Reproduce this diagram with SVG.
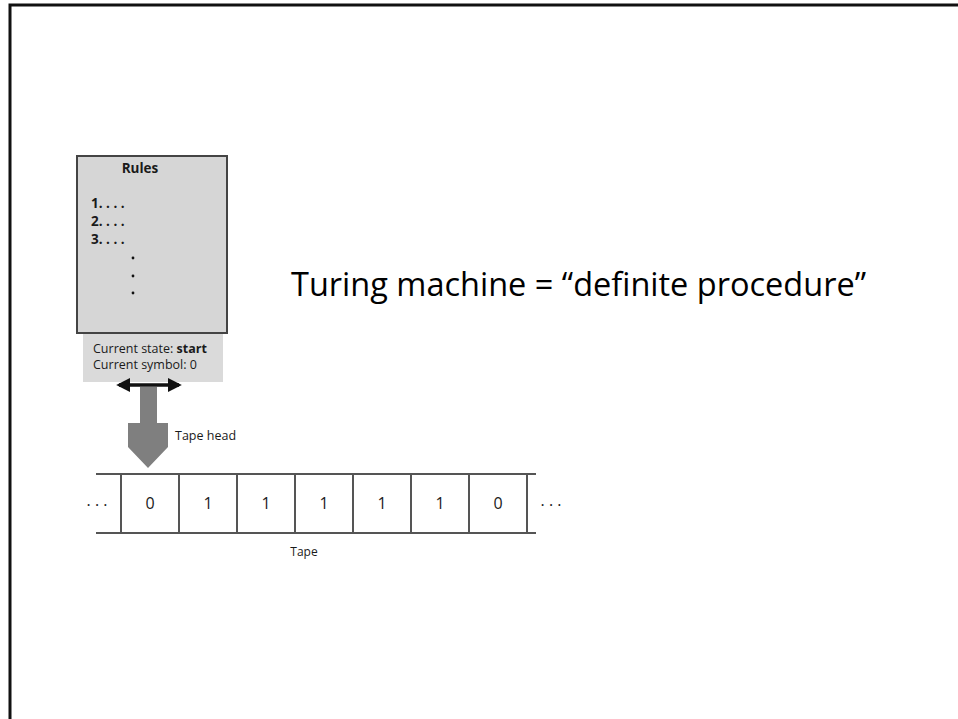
<svg xmlns="http://www.w3.org/2000/svg" width="958" height="719" viewBox="0 0 958 719">
  <style>
    .ui { font-family: "Open Sans", "Noto Sans", "Liberation Sans", sans-serif; fill: #1a1a1a; }
    .rule { font-size: 13.5px; font-weight: bold; }
    .small { font-size: 12.5px; }
    .cell { font-size: 16px; text-anchor: middle; }
    .tape-line { stroke: #555; stroke-width: 2; fill: none; }
    .title { font-family: "Open Sans", "Noto Sans", "Liberation Sans", sans-serif; font-size: 32px; fill: #000; }
  </style>
  <defs>
    <marker id="head" viewBox="0 0 10 10" refX="8" refY="5" markerWidth="4" markerHeight="4" orient="auto-start-reverse" markerUnits="strokeWidth">
      <path d="M0,0 L10,5 L0,10 Z" fill="#111"/>
    </marker>
  </defs>

  <rect width="958" height="719" fill="#fff"/>

  <!-- slide frame: top and left edges -->
  <path d="M10,719 V5 H958" fill="none" stroke="#111" stroke-width="3"/>

  <!-- rule table -->
  <g id="rules">
    <rect x="77" y="156" width="150" height="177" fill="#d6d6d6" stroke="#444" stroke-width="2"/>
    <text class="ui rule" font-size="14" x="140" y="173" text-anchor="middle">Rules</text>
    <text class="ui rule" x="91" y="208">1. . . .</text>
    <text class="ui rule" x="91" y="226">2. . . .</text>
    <text class="ui rule" x="91" y="244">3. . . .</text>
    <circle cx="133" cy="258" r="1.4" fill="#111"/>
    <circle cx="133" cy="276" r="1.4" fill="#111"/>
    <circle cx="133" cy="293" r="1.4" fill="#111"/>
  </g>

  <!-- state readout -->
  <g id="state">
    <rect x="83" y="334" width="140" height="48" fill="#dadada"/>
    <text class="ui small" x="93" y="353">Current state: <tspan font-weight="bold">start</tspan></text>
    <text class="ui small" x="93" y="369">Current symbol: 0</text>
  </g>

  <!-- head movement and read/write head -->
  <g id="connectors">
    <line x1="119" y1="385" x2="179" y2="385" stroke="#111" stroke-width="3.5" marker-start="url(#head)" marker-end="url(#head)"/>
  </g>
  <g id="tape-head">
    <path d="M140,387 H157 V423 H168 V447 L148,468 L128,447 V423 H140 Z" fill="#7f7f7f"/>
    <text class="ui small" font-size="13" x="175" y="440">Tape head</text>
  </g>

  <!-- tape -->
  <g id="tape">
    <line class="tape-line" x1="96" y1="474" x2="536" y2="474"/>
    <line class="tape-line" x1="96" y1="533" x2="536" y2="533"/>
    <g class="tape-line">
      <line x1="121" y1="474" x2="121" y2="533"/>
      <line x1="179" y1="474" x2="179" y2="533"/>
      <line x1="237" y1="474" x2="237" y2="533"/>
      <line x1="295" y1="474" x2="295" y2="533"/>
      <line x1="353" y1="474" x2="353" y2="533"/>
      <line x1="411" y1="474" x2="411" y2="533"/>
      <line x1="469" y1="474" x2="469" y2="533"/>
      <line x1="527" y1="474" x2="527" y2="533"/>
    </g>
    <text class="ui cell" x="97" y="506">.  .  .</text>
    <text class="ui cell" x="150" y="509">0</text>
    <text class="ui cell" x="208" y="509">1</text>
    <text class="ui cell" x="266" y="509">1</text>
    <text class="ui cell" x="324" y="509">1</text>
    <text class="ui cell" x="382" y="509">1</text>
    <text class="ui cell" x="440" y="509">1</text>
    <text class="ui cell" x="498" y="509">0</text>
    <text class="ui cell" x="551" y="506">.  .  .</text>
    <text class="ui" font-size="12" x="304" y="556" text-anchor="middle">Tape</text>
  </g>

  <text class="title" x="291" y="296" textLength="575" lengthAdjust="spacingAndGlyphs">Turing machine = “definite procedure”</text>
</svg>
